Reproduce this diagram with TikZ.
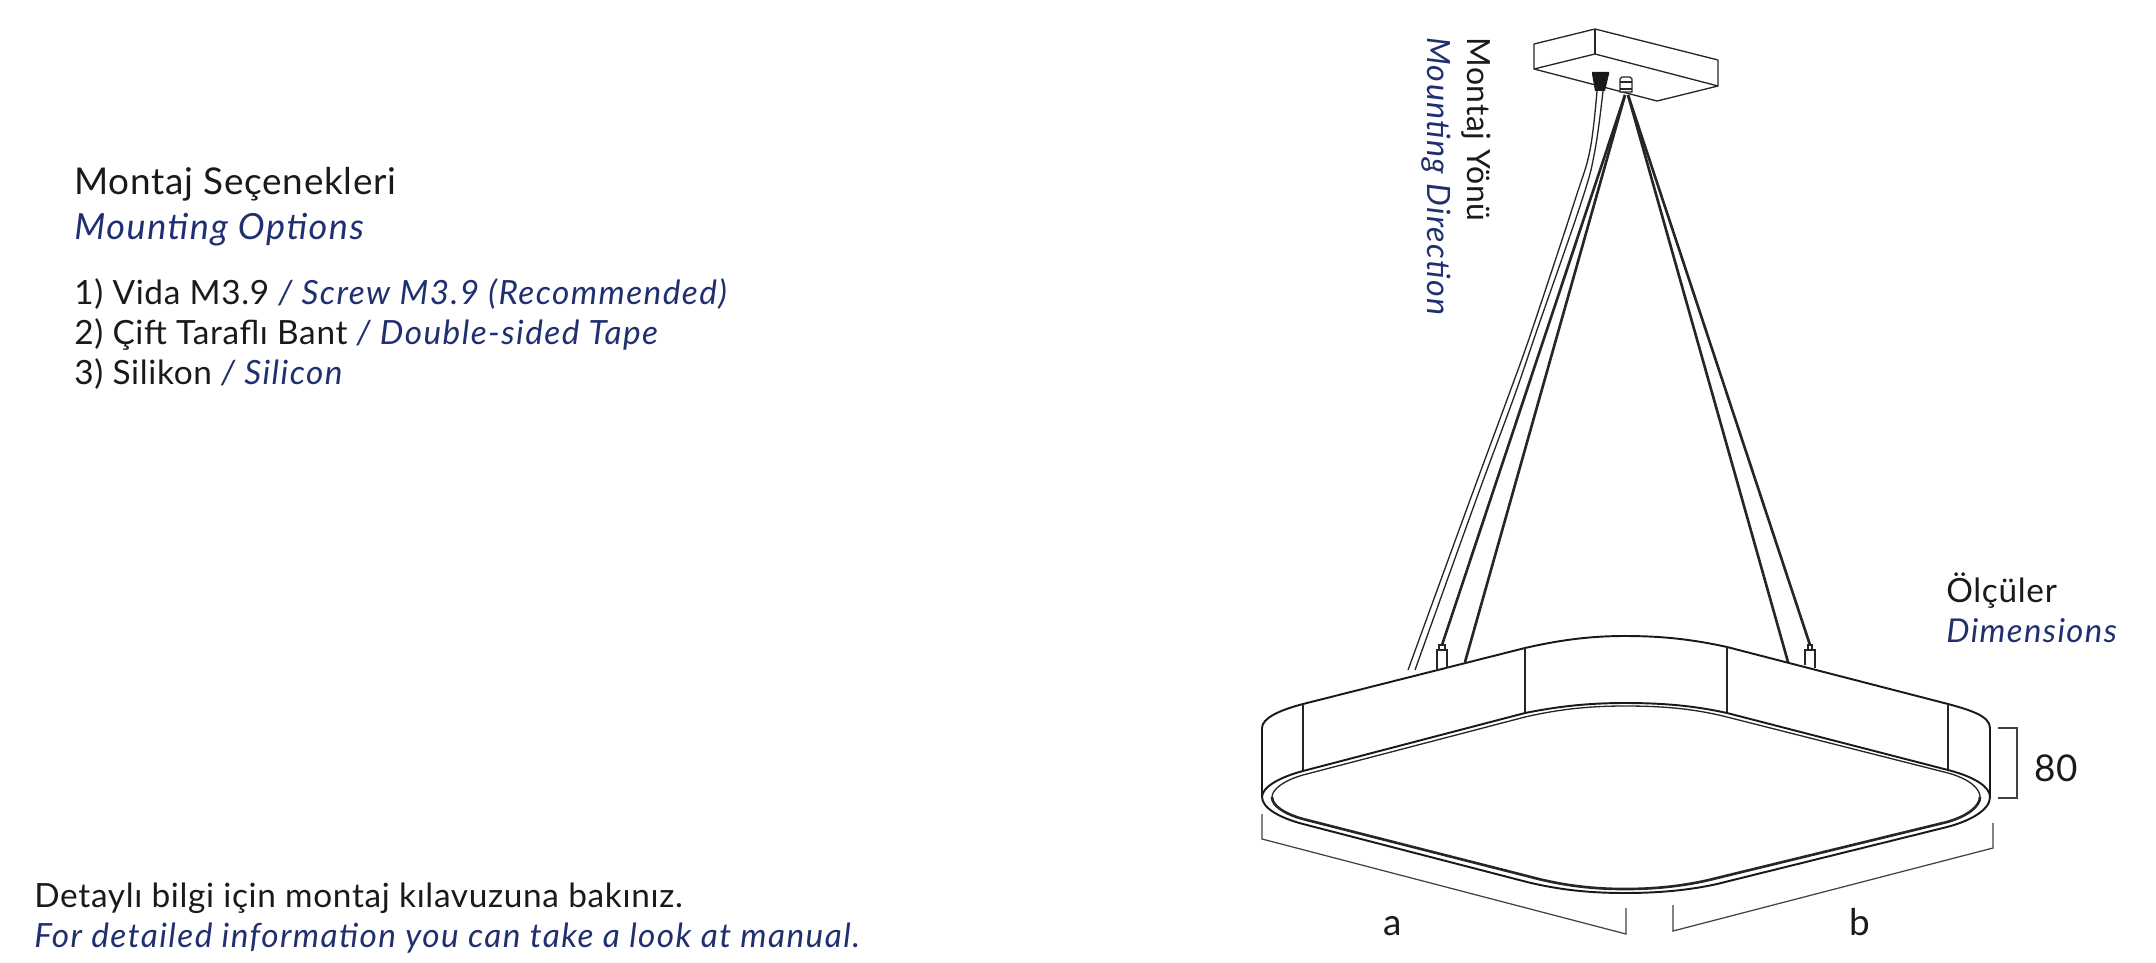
\documentclass[tikz,border=0pt]{standalone}
\usepackage{fontspec}
\setmainfont{Lato}[LetterSpace=2,ItalicFeatures={LetterSpace=4.3}]
\definecolor{enblue}{HTML}{1F2F6F}
\definecolor{trblack}{HTML}{1A1A1A}
\tikzset{
    trtext/.style={anchor=base west,inner sep=0pt,text=trblack},
    entext/.style={anchor=base west,inner sep=0pt,text=enblue,font=\itshape},
    thinline/.style={line width=0.75pt,draw=black!85},
    bodyline/.style={line width=1.1pt,draw=black!90},
    wireline/.style={line width=1.5pt,draw=black!85},
    bracketline/.style={line width=0.7pt,draw=black!75},
}
\newcommand{\bodysize}{\fontsize{19}{20}\selectfont}
\newcommand{\headsize}{\fontsize{21}{22}\selectfont}
\begin{document}
\begin{tikzpicture}[x=0.02cm,y=-0.02cm]
    \useasboundingbox (0,0) rectangle (2156,963);

    \node[trtext,font=\headsize] (headtr) at (74,194) {Montaj Seçenekleri};
    \node[entext,font=\fontsize{20.5}{22}\selectfont\itshape] (headen) at (74,239) {Mounting Options};
    \node[trtext,font=\bodysize] (opt1) at (74,304) {1) Vida M3.9 \textcolor{enblue}{\itshape / Screw M3.9 (Recommended)}};
    \node[trtext,font=\bodysize] (opt2) at (74,344) {2) Çift Taraflı Bant \textcolor{enblue}{\itshape / Double-sided Tape}};
    \node[trtext,font=\bodysize] (opt3) at (74,384) {3) Silikon \textcolor{enblue}{\itshape / Silicon}};
    \node[trtext,font=\bodysize] (notetr) at (34,907) {Detaylı bilgi için montaj kılavuzuna bakınız.};
    \node[entext,font=\bodysize\itshape] (noteen) at (34,947) {For detailed information you can take a look at manual.};

    \node[trtext,font=\fontsize{18.2}{20}\selectfont,rotate=-90] (dirtr) at (1467,37) {Montaj Yönü};
    \node[entext,font=\fontsize{18.3}{20}\selectfont\itshape,rotate=-90] (diren) at (1427,37) {Mounting Direction};
    \node[trtext,font=\bodysize] (dimtr) at (1946,602) {Ölçüler};
    \node[entext,font=\fontsize{18.7}{20}\selectfont\itshape] (dimen) at (1946,642) {Dimensions};
    \node[trtext,font=\headsize] (dimh) at (2034,781) {80};
    \node[trtext,font=\headsize,anchor=base] (dima) at (1393,935) {a};
    \node[trtext,font=\headsize,anchor=base] (dimb) at (1860,935) {b};

    % ceiling box
    \draw[thinline,line join=round] (1534,44) -- (1595,29) -- (1718,60) -- (1718,86) -- (1657,101) -- (1534,69) -- cycle;
    \draw[thinline] (1595,29) -- (1595,54);
    \draw[thinline] (1534,69) -- (1595,54) -- (1718,86);

    % fittings under the box
    \fill[black!90] (1592,72) -- (1609,72) -- (1609,74) -- (1605,91) -- (1595,91) -- (1592,74) -- cycle;
    \draw[thinline,fill=white] (1620,92) -- (1620,79) -- (1622,77) -- (1630,77) -- (1632,79) -- (1632,92) -- cycle;
    \draw[thinline] (1620,82) -- (1632,82);
    \draw[thinline] (1620,89) -- (1632,89);

    % power cable
    \draw[thinline] plot[smooth,tension=0.6] coordinates {(1597,91) (1590,150) (1575,200) (1532,330) (1508,397) (1470,500) (1408,670)};
    \draw[thinline] plot[smooth,tension=0.6] coordinates {(1603,91) (1595,150) (1582,200) (1537,330) (1514,397) (1476,500) (1415,670)};

    % hanging wires
    \coordinate (hubl) at (1625,95);
    \coordinate (hubr) at (1628,95);
    \coordinate (pinl) at (1442,645);
    \coordinate (pinr) at (1810,645);
    \coordinate (footl) at (1465,662);
    \coordinate (footr) at (1788,662);
    \draw[wireline] (hubl) -- (pinl);
    \draw[wireline] (hubl) -- (footl);
    \draw[wireline] (hubr) -- (pinr);
    \draw[wireline] (hubr) -- (footr);

    % pins on the lamp
    \draw[thinline] (1437,669) -- (1437,650) -- (1447,650) -- (1447,667);
    \draw[thinline] (1439,650) -- (1439,645) -- (1445,645) -- (1445,650);
    \draw[thinline] (1805,665) -- (1805,650) -- (1815,650) -- (1815,668);
    \draw[thinline] (1808,650) -- (1808,645) -- (1812,645) -- (1812,650);

    % lamp body
    \draw[bodyline] (1262,797) -- (1262,728) .. controls (1262,718) and (1280,710) .. (1303,704) -- (1525,648)
        .. controls (1560,640) and (1590,636) .. (1625,636) .. controls (1665,636) and (1695,640) .. (1727,647)
        -- (1948,704) .. controls (1970,710) and (1990,716) .. (1990,728) -- (1990,797);
    \draw[thinline] (1303,704) -- (1303,771);
    \draw[thinline] (1525,648) -- (1525,713);
    \draw[thinline] (1727,647) -- (1727,713);
    \draw[thinline] (1948,704) -- (1948,770);

    % outer ring
    \draw[bodyline] (1262,797) .. controls (1262,787) and (1280,777) .. (1303,771) -- (1525,713)
        .. controls (1560,706) and (1590,703) .. (1625,703) .. controls (1665,703) and (1695,706) .. (1727,713)
        -- (1948,770) .. controls (1975,777) and (1990,787) .. (1990,797) .. controls (1990,810) and (1970,821) .. (1947,827)
        -- (1717,884) .. controls (1690,890) and (1660,893) .. (1625,893) .. controls (1590,893) and (1560,890) .. (1527,882)
        -- (1303,824) .. controls (1280,818) and (1262,808) .. (1262,797) -- cycle;

    % inner ring
    \draw[thinline] (1272,797) .. controls (1272,789) and (1285,780) .. (1303,775) -- (1525,717)
        .. controls (1560,709) and (1590,706) .. (1625,706) .. controls (1665,706) and (1695,709) .. (1727,717)
        -- (1948,773) .. controls (1970,779) and (1980,789) .. (1980,797);
    \draw[wireline] (1980,797) .. controls (1980,806) and (1968,816) .. (1947,822)
        -- (1717,878) .. controls (1690,885) and (1660,889) .. (1625,889) .. controls (1590,889) and (1560,885) .. (1527,876)
        -- (1303,819) .. controls (1285,814) and (1272,806) .. (1272,797);

    % dimension brackets
    \draw[bracketline] (1262,814) -- (1262,839) -- (1626,934) -- (1626,908);
    \draw[bracketline] (1673,905) -- (1673,931) -- (1993,848) -- (1993,823);
    \draw[bracketline] (1998,728) -- (2017,728) -- (2017,798) -- (1998,798);
\end{tikzpicture}
\end{document}
